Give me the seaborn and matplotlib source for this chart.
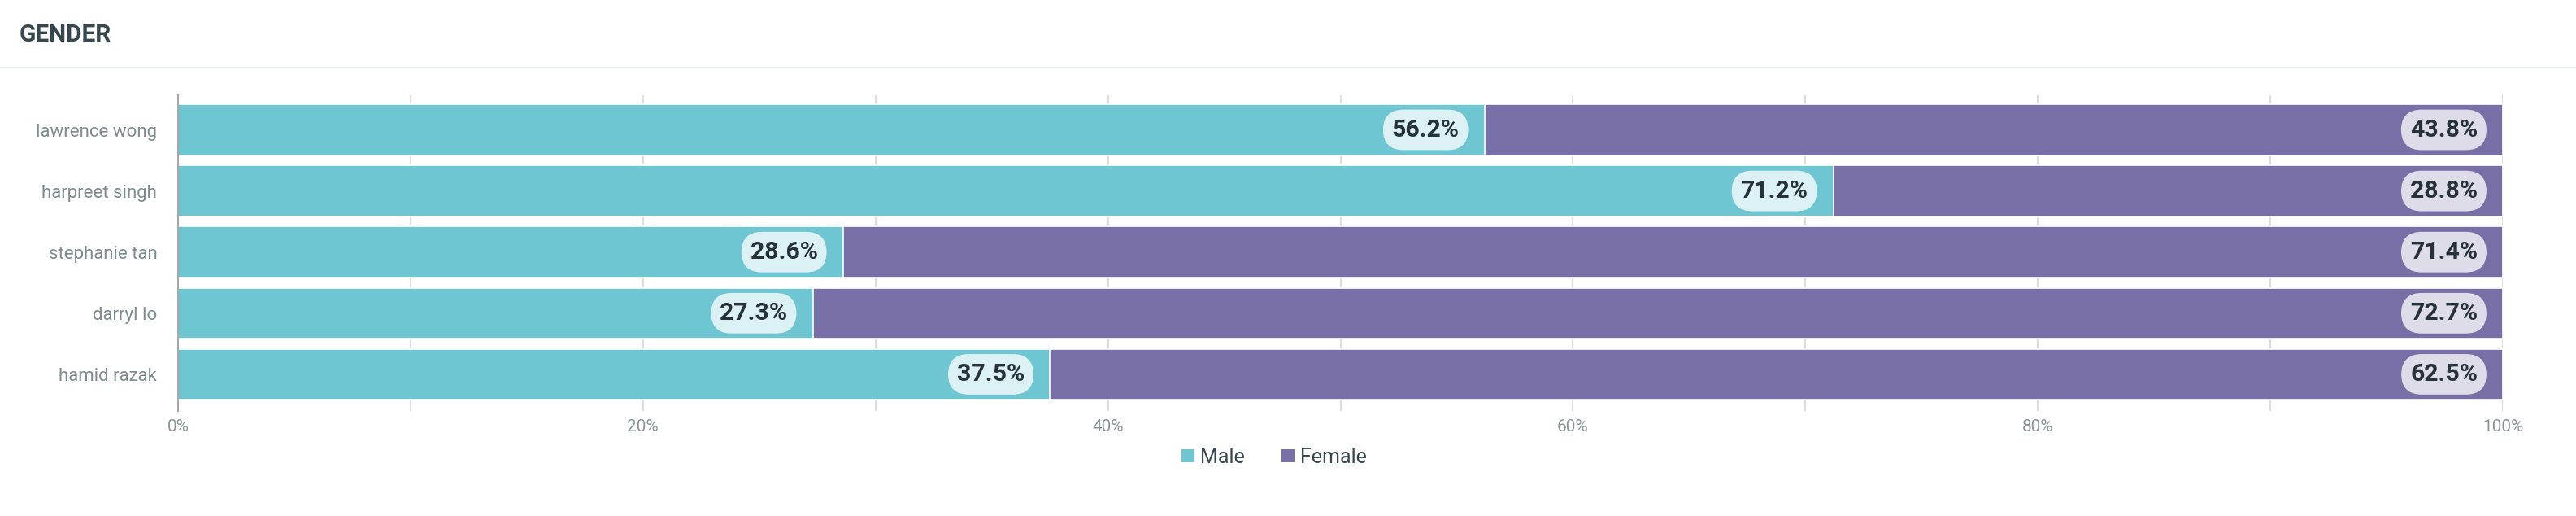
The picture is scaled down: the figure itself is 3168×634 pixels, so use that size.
import matplotlib
matplotlib.use("Agg")
import matplotlib.pyplot as plt
import seaborn as sns
import pandas as pd
from matplotlib.patches import Patch
from matplotlib.lines import Line2D
from matplotlib.ticker import MultipleLocator, FuncFormatter

# ---- data ----
names = ["lawrence wong", "harpreet singh", "stephanie tan", "darryl lo", "hamid razak"]
male = [56.2, 71.2, 28.6, 27.3, 37.5]
female = [43.8, 28.8, 71.4, 72.7, 62.5]
series_labels = ["Male", "Female"]
title = "GENDER"

MALE_C = "#6ec6d3"
FEMALE_C = "#786fa6"

sns.set_theme(style="white")
plt.rcParams["font.family"] = ["Roboto", "DejaVu Sans"]

W, H, DPI = 3168, 634, 100
fig = plt.figure(figsize=(W / DPI, H / DPI), dpi=DPI)
fig.patch.set_facecolor("white")

ax_l, ax_r, ax_t, ax_b = 219, 3078, 117, 505
ax = fig.add_axes([ax_l / W, 1 - ax_b / H, (ax_r - ax_l) / W, (ax_b - ax_t) / H])

df = pd.DataFrame({"name": names, "male": male, "female": female})
df["total"] = df["male"] + df["female"]

bar_w = 0.832
sns.barplot(data=df, x="total", y="name", orient="h", color=FEMALE_C, saturation=1,
            width=bar_w, edgecolor="white", linewidth=1.2, ax=ax, zorder=2)
sns.barplot(data=df, x="male", y="name", orient="h", color=MALE_C, saturation=1,
            width=bar_w, edgecolor="white", linewidth=1.2, ax=ax, zorder=3)

ax.set_xlim(0, 100)
ax.set_ylim(4.6, -0.566)
ax.set_xlabel("")
ax.set_ylabel("")

ax.xaxis.set_major_locator(MultipleLocator(20))
ax.xaxis.set_minor_locator(MultipleLocator(10))
ax.xaxis.set_major_formatter(FuncFormatter(lambda v, p: f"{v:.0f}%"))
ax.grid(axis="x", which="both", color="#dedede", linewidth=1.6, zorder=0)
ax.set_axisbelow(True)
ax.tick_params(axis="x", which="both", length=0, pad=7, labelsize=15, labelcolor="#8a9696")
ax.tick_params(axis="y", length=0, pad=18.5, labelsize=16, labelcolor="#7f8c8d")

for s in ["top", "right", "bottom"]:
    ax.spines[s].set_visible(False)
ax.spines["left"].set_color("#a4a8ab")
ax.spines["left"].set_linewidth(1.5)
ax.spines["left"].set_zorder(5)

# value pills
def pill(xv, yi, txt):
    ax.annotate(txt, xy=(xv, yi), xytext=(-31, 0), textcoords="offset pixels",
                ha="right", va="center", fontsize=21.8, fontweight="bold", color="#263238",
                bbox=dict(boxstyle="round,pad=0.36,rounding_size=0.84",
                          fc=(1, 1, 1, 0.76), ec="none"), zorder=6)

for i in range(len(names)):
    pill(male[i], i, f"{male[i]:.1f}%")
    pill(male[i] + female[i], i, f"{female[i]:.1f}%")

# title & separator
fig.text(24 / W, 1 - 43 / H, title, ha="left", va="center", fontsize=21.5,
         fontweight="bold", color="#37474f")
fig.add_artist(Line2D([0, 1], [1 - 83 / H, 1 - 83 / H], transform=fig.transFigure,
                      color="#e8edf1", linewidth=1.6))

# legend
handles = [Patch(facecolor=MALE_C, edgecolor="none", label=series_labels[0]),
           Patch(facecolor=FEMALE_C, edgecolor="none", label=series_labels[1])]
fig.legend(handles=handles, loc="center", bbox_to_anchor=(1567 / W, 1 - 562 / H),
           ncol=2, frameon=False, fontsize=18, labelcolor="#37474f",
           handlelength=0.64, handleheight=0.64, handletextpad=0.3,
           columnspacing=1.8, borderaxespad=0, borderpad=0)

fig.savefig("out.png", dpi=DPI, facecolor="white")
